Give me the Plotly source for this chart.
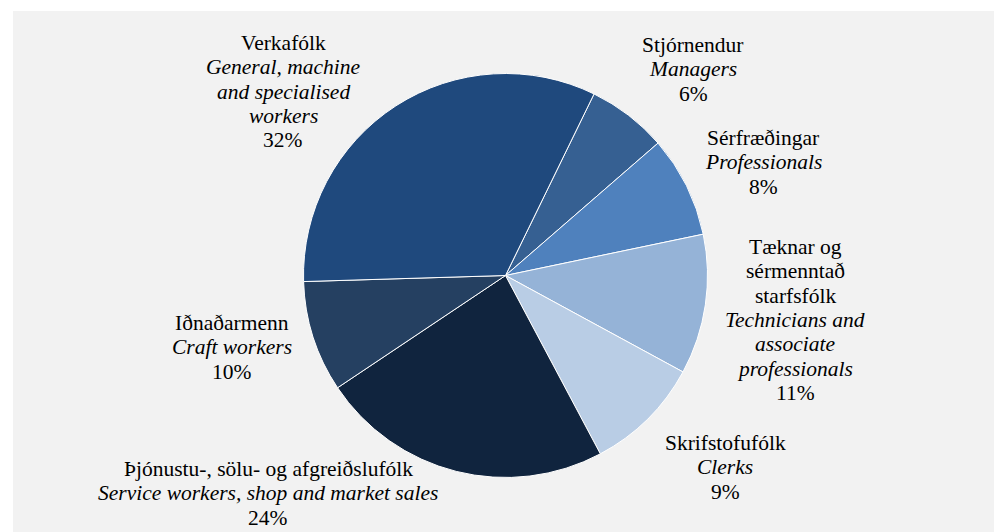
import plotly.graph_objects as go

labels_is = [["Stjórnendur"], ["Sérfræðingar"], ["Tæknar og", "sérmenntað", "starfsfólk"],
             ["Skrifstofufólk"], ["Þjónustu-, sölu- og afgreiðslufólk"], ["Iðnaðarmenn"], ["Verkafólk"]]
labels_en = [["Managers"], ["Professionals"], ["Technicians and", "associate", "professionals"],
             ["Clerks"], ["Service workers, shop and market sales"], ["Craft workers"],
             ["General, machine", "and specialised", "workers"]]
shares = [6.4, 8.1, 11.2, 9.3, 23.4, 8.9, 32.7]
pct_labels = ["6%", "8%", "11%", "9%", "24%", "10%", "32%"]
colors = ["#366092", "#4F81BD", "#95B3D7", "#B9CDE5", "#10243E", "#254061", "#1F497D"]

# page has an 8px body margin: positions below are in window pixels, shifted by OFF
OFF = 8
W, H = 1002 - OFF, 532 - OFF
# centre x and first-line centre y of each label (window pixels)
label_pos = [(693, 45), (763, 138), (795, 247), (725, 443), (268, 469), (232, 323), (283, 43)]
LINE = 24.3
FONT = dict(family="Liberation Serif, Times New Roman, serif", size=21.5, color="black")

cx, cy, r = 505.5 - OFF, 275.5 - OFF, 202

fig = go.Figure(go.Pie(
    labels=[" ".join(l) for l in labels_en],
    values=shares,
    sort=False,
    direction="clockwise",
    rotation=26,
    marker=dict(colors=colors, line=dict(color="white", width=1)),
    textinfo="none",
    hoverinfo="label+percent",
    showlegend=False,
    domain=dict(x=[(cx - r) / W, (cx + r) / W], y=[1 - (cy + r) / H, 1 - (cy - r) / H]),
))

annotations = []
for li, le, p, (x, y) in zip(labels_is, labels_en, pct_labels, label_pos):
    lines = li + [f"<i>{t}</i>" for t in le] + [p]
    for k, t in enumerate(lines):
        annotations.append(dict(
            text=t,
            x=(x - OFF) / W, y=1 - (y - OFF + k * LINE) / H, xref="paper", yref="paper",
            xanchor="center", yanchor="middle", showarrow=False, align="center",
            font=FONT,
        ))

fig.update_layout(
    width=W, height=H,
    margin=dict(l=0, r=0, t=0, b=0),
    paper_bgcolor="white",
    plot_bgcolor="white",
    font=FONT,
    annotations=annotations,
    shapes=[dict(type="rect", xref="paper", yref="paper",
                 x0=(13 - OFF) / W, x1=(997 - OFF) / W, y0=0, y1=1 - (11 - OFF) / H,
                 fillcolor="#F2F2F2", line=dict(width=0), layer="below")],
)

fig.write_html("out.html")
